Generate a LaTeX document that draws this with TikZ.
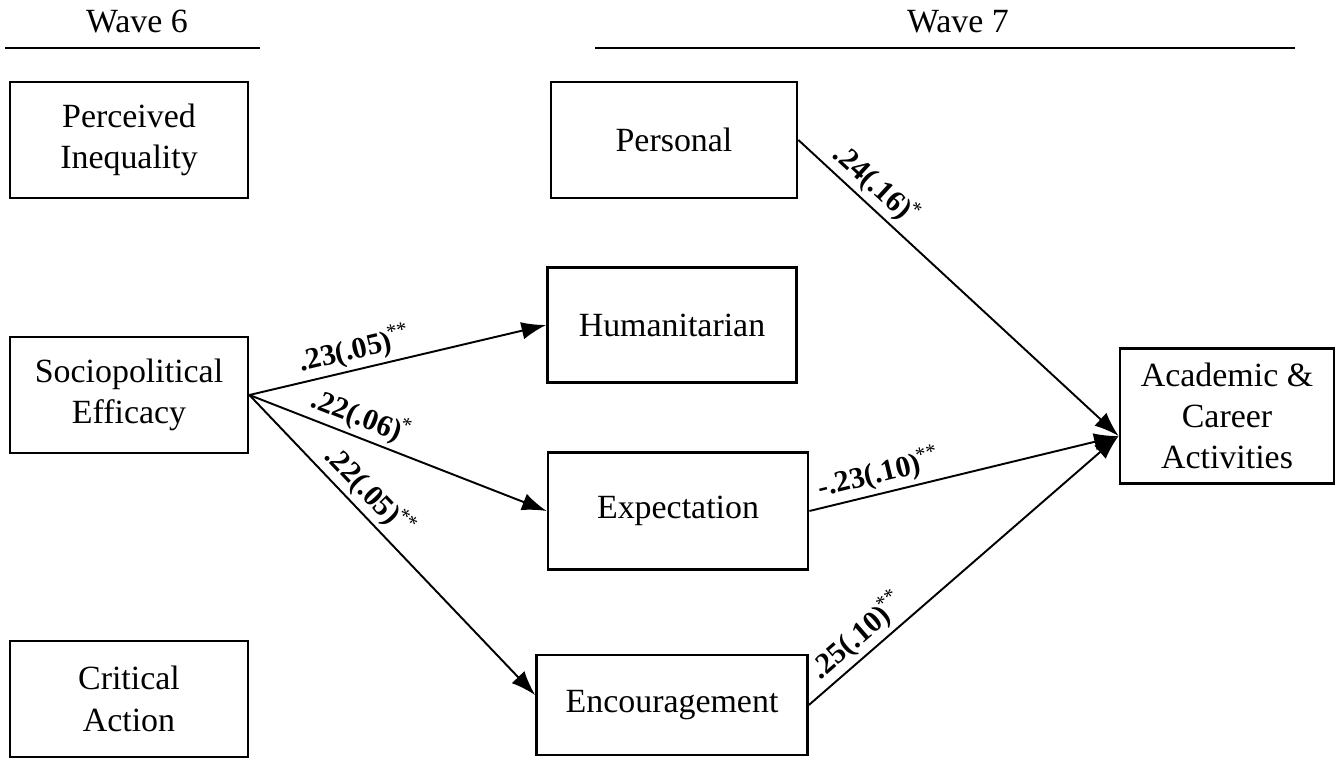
\documentclass[tikz,border=0pt]{standalone}
\usepackage{fontspec}
\setmainfont{Liberation Serif}
\usetikzlibrary{arrows.meta, positioning}
\tikzset{
  box/.style={draw, line width=1.6pt, align=center, minimum height=2.32cm, inner sep=2pt, font=\fontsize{19.3}{23.5}\selectfont},
  effect/.style={-{Latex[length=14pt,width=10pt]}, line width=1.1pt},
  coef/.style={sloped, above, inner sep=2pt, font=\fontsize{17}{20}\selectfont\bfseries},
  wave/.style={font=\fontsize{19.3}{24}\selectfont}
}
\newcommand{\sig}[1]{\kern-1.5pt\textsuperscript{\mdseries #1}}

\begin{document}
\begin{tikzpicture}[x=0.02cm, y=-0.02cm]
\useasboundingbox (0,0) rectangle (1342,760);

% wave headers
\node[wave] (w6) at (137,22) {Wave 6};
\node[wave] (w7) at (958,22) {Wave 7};
\draw[line width=1.2pt] (5,48) -- (260,48);
\draw[line width=1.2pt] (595,48) -- (1295,48);

% wave 6
\node[box, minimum width=4.76cm] (ineq) at (129,140) {Perceived\\Inequality};
\node[box, minimum width=4.76cm] (spe) at (129,395) {Sociopolitical\\Efficacy};
\node[box, minimum width=4.76cm] (crit) at (129,699) {Critical\\Action};

% wave 7
\node[box, minimum width=4.92cm] (pers) at (674,140) {Personal};
\node[box, minimum width=4.98cm, minimum height=2.30cm] (hum) at (672,325) {Humanitarian};
\node[box, minimum width=5.20cm, minimum height=2.34cm] (expc) at (678,511) {Expectation};
\node[box, minimum width=5.42cm, minimum height=2.0cm] (enc) at (672,705) {Encouragement};
\node[box, minimum width=4.28cm, minimum height=2.70cm] (acad) at (1227,416) {Academic \&\\Career\\Activities};
\coordinate (hub) at ([yshift=-0.4cm]acad.west);

% paths
\draw[effect] (spe.east) -- node[coef, pos=0.37] {.23(.05)\sig{**}} (hum.west);
\draw[effect] (spe.east) -- node[coef, pos=0.35] {.22(.06)\sig{*}} (expc.west);
\draw[effect] (spe.east) -- node[coef, pos=0.37] {.22(.05)\sig{**}} ([yshift=0.2cm]enc.west);
\draw[effect] (pers.east) -- node[coef, pos=0.2] {.24(.16)\sig{*}} (hub);
\draw[effect] (expc.east) -- node[coef, pos=0.24] {-.23(.10)\sig{**}} (hub);
\draw[effect] (enc.east) -- node[coef, pos=0.2] {.25(.10)\sig{**}} (hub);
\end{tikzpicture}
\end{document}
